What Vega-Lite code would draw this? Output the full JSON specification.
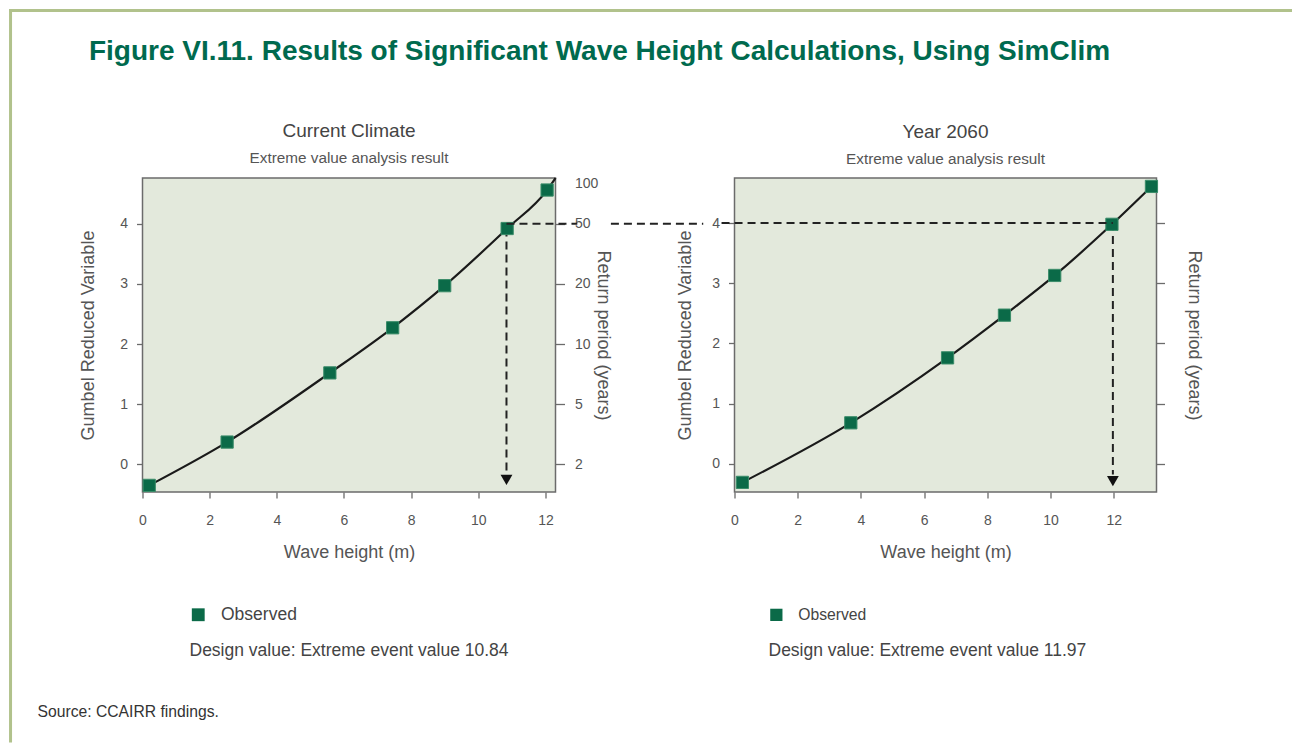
{
  "$schema": "https://vega.github.io/schema/vega-lite/v6.json",
  "background": "white",
  "padding": {"left": 7.5, "top": 7, "right": 0, "bottom": 0},
  "title": {
    "text": "Figure VI.11. Results of Significant Wave Height Calculations, Using SimClim",
    "anchor": "middle",
    "frame": "bounds",
    "dx": -51,
    "dy": 113.5,
    "offset": 55,
    "font": "Liberation Sans",
    "fontSize": 28,
    "fontWeight": "bold",
    "color": "#006a4e"
  },
  "datasets": {
    "cur_obs": [
      {"height": 0.2, "gumbel": -0.35, "series": "Observed"},
      {"height": 2.52, "gumbel": 0.37, "series": "Observed"},
      {"height": 5.58, "gumbel": 1.52, "series": "Observed"},
      {"height": 7.45, "gumbel": 2.27, "series": "Observed"},
      {"height": 9.0, "gumbel": 2.97, "series": "Observed"},
      {"height": 10.86, "gumbel": 3.92, "series": "Observed"},
      {"height": 12.05, "gumbel": 4.56, "series": "Observed"}
    ],
    "cur_fit": [
      {"height": 0.2, "gumbel": -0.35},
      {"height": 2.52, "gumbel": 0.37},
      {"height": 5.58, "gumbel": 1.52},
      {"height": 7.45, "gumbel": 2.27},
      {"height": 9.0, "gumbel": 2.97},
      {"height": 10.86, "gumbel": 3.92},
      {"height": 12.05, "gumbel": 4.56},
      {"height": 12.3, "gumbel": 4.76}
    ],
    "fut_obs": [
      {"height": 0.25, "gumbel": -0.31, "series": "Observed"},
      {"height": 3.68, "gumbel": 0.68, "series": "Observed"},
      {"height": 6.74, "gumbel": 1.76, "series": "Observed"},
      {"height": 8.54, "gumbel": 2.47, "series": "Observed"},
      {"height": 10.13, "gumbel": 3.13, "series": "Observed"},
      {"height": 11.94, "gumbel": 3.98, "series": "Observed"},
      {"height": 13.19, "gumbel": 4.61, "series": "Observed"}
    ],
    "fut_fit": [
      {"height": 0.25, "gumbel": -0.31},
      {"height": 3.68, "gumbel": 0.68},
      {"height": 6.74, "gumbel": 1.76},
      {"height": 8.54, "gumbel": 2.47},
      {"height": 10.13, "gumbel": 3.13},
      {"height": 11.94, "gumbel": 3.98},
      {"height": 13.19, "gumbel": 4.61}
    ],
    "one": [{}]
  },
  "vconcat": [
    {
      "title": {
        "text": "Source: CCAIRR findings.",
        "orient": "bottom",
        "anchor": "start",
        "frame": "group",
        "dx": -105,
        "dy": -83.5,
        "offset": 45,
        "font": "Liberation Sans",
        "fontSize": 15.7,
        "fontWeight": "normal",
        "color": "#333"
      },
      "bounds": "flush",
      "spacing": 179,
      "resolve": {"scale": {"color": "independent"}, "legend": {"color": "independent"}},
      "hconcat": [
        {
          "width": 413,
          "height": 314,
          "title": {
            "text": "Current Climate",
            "subtitle": "Extreme value analysis result",
            "frame": "group",
            "anchor": "middle",
            "offset": 8,
            "dy": 166.2,
            "font": "Liberation Sans",
            "fontSize": 19,
            "fontWeight": "normal",
            "color": "#444",
            "subtitleFont": "Liberation Sans",
            "subtitleFontSize": 15.3,
            "subtitleColor": "#555",
            "subtitlePadding": 10
          },
          "layer": [
            {
              "layer": [
                {
                  "data": {"name": "one"},
                  "mark": {"type": "rule", "strokeWidth": 3, "color": "#b1c28c", "strokeCap": "square", "clip": false},
                  "encoding": {
                    "x": {"datum": -3.93, "type": "quantitative", "scale": {"domain": [0, 12.3], "nice": false, "zero": false}},
                    "x2": {"datum": 34.19},
                    "y": {"datum": 7.545, "type": "quantitative", "scale": {"domain": [-0.46, 4.76], "nice": false, "zero": false}}
                  }
                },
                {
                  "data": {"name": "one"},
                  "mark": {"type": "rule", "strokeWidth": 3, "color": "#b1c28c", "strokeCap": "square", "clip": false},
                  "encoding": {
                    "x": {"datum": -3.93, "type": "quantitative", "scale": {"domain": [0, 12.3], "nice": false, "zero": false}},
                    "y": {"datum": 7.545, "type": "quantitative", "scale": {"domain": [-0.46, 4.76], "nice": false, "zero": false}},
                    "y2": {"datum": -4.6}
                  }
                },
                {
                  "data": {"name": "cur_fit"},
                  "mark": {"type": "line", "interpolate": "monotone", "color": "#1a1a1a", "strokeWidth": 2.2},
                  "encoding": {
                    "x": {"field": "height", "type": "quantitative", "scale": {"domain": [0, 12.3], "nice": false, "zero": false},
                          "axis": {"values": [0, 2, 4, 6, 8, 10, 12], "format": "d", "title": "Wave height (m)", "labelPadding": 15, "titlePadding": 16}},
                    "y": {"field": "gumbel", "type": "quantitative", "scale": {"domain": [-0.46, 4.76], "nice": false, "zero": false},
                          "axis": {"values": [0, 1, 2, 3, 4], "format": "d", "title": "Gumbel Reduced Variable", "labelPadding": 9, "titlePadding": 22}}
                  }
                },
                {
                  "data": {"name": "one"},
                  "mark": {"type": "rule", "strokeDash": [8, 5], "strokeWidth": 2, "color": "#222"},
                  "encoding": {
                    "x": {"datum": 10.84, "type": "quantitative", "scale": {"domain": [0, 12.3], "nice": false, "zero": false}},
                    "y": {"datum": 3.92, "type": "quantitative", "scale": {"domain": [-0.46, 4.76], "nice": false, "zero": false}},
                    "y2": {"datum": -0.15}
                  }
                },
                {
                  "data": {"name": "one"},
                  "mark": {"type": "rule", "strokeDash": [8, 5], "strokeWidth": 2, "color": "#222", "clip": false},
                  "encoding": {
                    "x": {"datum": 13.95, "type": "quantitative", "scale": {"domain": [0, 12.3], "nice": false, "zero": false}},
                    "x2": {"datum": 16.7},
                    "y": {"datum": 4, "type": "quantitative", "scale": {"domain": [-0.46, 4.76], "nice": false, "zero": false}}
                  }
                },
                {
                  "data": {"name": "one"},
                  "mark": {"type": "point", "shape": "triangle-down", "filled": true, "size": 140, "color": "#111", "opacity": 1},
                  "encoding": {
                    "x": {"datum": 10.84, "type": "quantitative", "scale": {"domain": [0, 12.3], "nice": false, "zero": false}},
                    "y": {"datum": -0.26, "type": "quantitative", "scale": {"domain": [-0.46, 4.76], "nice": false, "zero": false}}
                  }
                },
                {
                  "data": {"name": "cur_obs"},
                  "mark": {"type": "point", "shape": "square", "filled": true, "size": 150, "opacity": 1, "stroke": "#3a8c69", "strokeWidth": 1},
                  "encoding": {
                    "x": {"field": "height", "type": "quantitative", "scale": {"domain": [0, 12.3], "nice": false, "zero": false}},
                    "y": {"field": "gumbel", "type": "quantitative", "scale": {"domain": [-0.46, 4.76], "nice": false, "zero": false}},
                    "color": {
                      "field": "series", "type": "nominal",
                      "scale": {"range": ["#0b6a48"]},
                      "legend": {
                        "orient": "none", "legendX": 47, "legendY": 428,
                        "title": "Design value:  Extreme event value 10.84",
                        "titleOrient": "bottom", "titleAnchor": "start", "titlePadding": 19, "titleLimit": 600,
                        "titleFont": "Liberation Sans", "titleFontSize": 17.5, "titleFontWeight": "normal", "titleColor": "#444",
                        "labelFont": "Liberation Sans", "labelFontSize": 17.5, "labelColor": "#444", "labelOffset": 14,
                        "symbolType": "square", "symbolSize": 165, "symbolStrokeWidth": 0, "padding": 0
                      }
                    }
                  }
                }
              ]
            },
            {
              "data": {"name": "one"},
              "mark": {"type": "rule", "strokeDash": [8, 5], "strokeWidth": 2, "color": "#222", "clip": false},
              "encoding": {
                "x": {"datum": 10.84, "type": "quantitative", "scale": {"domain": [0, 12.3], "nice": false, "zero": false}},
                "x2": {"datum": 12.95},
                "y": {"datum": 4, "type": "quantitative", "scale": {"domain": [-0.46, 4.76], "nice": false, "zero": false},
                      "axis": {
                        "orient": "right", "values": [0, 1, 2, 3, 4, 4.67],
                        "labelExpr": "datum.value == 0 ? '2' : datum.value == 1 ? '5' : datum.value == 2 ? '10' : datum.value == 3 ? '20' : datum.value == 4 ? '50' : '100'",
                        "title": "Return period (years)", "tickSize": 9, "labelPadding": 10, "titlePadding": -4,
                        "tickOpacity": {"condition": {"test": "datum.value > 4.5", "value": 0}, "value": 1}
                      }}
              }
            }
          ],
          "resolve": {"scale": {"y": "independent"}}
        },
        {
          "width": 422,
          "height": 314,
          "title": {
            "text": "Year 2060",
            "subtitle": "Extreme value analysis result",
            "frame": "group",
            "anchor": "middle",
            "offset": 11,
            "font": "Liberation Sans",
            "fontSize": 19,
            "fontWeight": "normal",
            "color": "#444",
            "subtitleFont": "Liberation Sans",
            "subtitleFontSize": 15.3,
            "subtitleColor": "#555",
            "subtitlePadding": 10
          },
          "layer": [
            {
              "layer": [
                {
                  "data": {"name": "fut_fit"},
                  "mark": {"type": "line", "interpolate": "monotone", "color": "#1a1a1a", "strokeWidth": 2.2},
                  "encoding": {
                    "x": {"field": "height", "type": "quantitative", "scale": {"domain": [0, 13.35], "nice": false, "zero": false},
                          "axis": {"values": [0, 2, 4, 6, 8, 10, 12], "format": "d", "title": "Wave height (m)", "labelPadding": 15, "titlePadding": 16}},
                    "y": {"field": "gumbel", "type": "quantitative", "scale": {"domain": [-0.47, 4.75], "nice": false, "zero": false},
                          "axis": {"values": [0, 1, 2, 3, 4], "format": "d", "title": "Gumbel Reduced Variable", "labelPadding": 9, "titlePadding": 17}}
                  }
                },
                {
                  "data": {"name": "one"},
                  "mark": {"type": "rule", "strokeDash": [8, 5], "strokeWidth": 2, "color": "#222"},
                  "encoding": {
                    "x": {"datum": 11.97, "type": "quantitative", "scale": {"domain": [0, 13.35], "nice": false, "zero": false}},
                    "y": {"datum": 4, "type": "quantitative", "scale": {"domain": [-0.47, 4.75], "nice": false, "zero": false}},
                    "y2": {"datum": -0.18}
                  }
                },
                {
                  "data": {"name": "one"},
                  "mark": {"type": "point", "shape": "triangle-down", "filled": true, "size": 140, "color": "#111", "opacity": 1},
                  "encoding": {
                    "x": {"datum": 11.97, "type": "quantitative", "scale": {"domain": [0, 13.35], "nice": false, "zero": false}},
                    "y": {"datum": -0.29, "type": "quantitative", "scale": {"domain": [-0.47, 4.75], "nice": false, "zero": false}}
                  }
                },
                {
                  "data": {"name": "fut_obs"},
                  "mark": {"type": "point", "shape": "square", "filled": true, "size": 150, "opacity": 1, "stroke": "#3a8c69", "strokeWidth": 1},
                  "encoding": {
                    "x": {"field": "height", "type": "quantitative", "scale": {"domain": [0, 13.35], "nice": false, "zero": false}},
                    "y": {"field": "gumbel", "type": "quantitative", "scale": {"domain": [-0.47, 4.75], "nice": false, "zero": false}},
                    "color": {
                      "field": "series", "type": "nominal",
                      "scale": {"range": ["#0b6a48"]},
                      "legend": {
                        "orient": "none", "legendX": 34, "legendY": 429,
                        "title": "Design value:  Extreme event value 11.97",
                        "titleOrient": "bottom", "titleAnchor": "start", "titlePadding": 19, "titleLimit": 600,
                        "titleFont": "Liberation Sans", "titleFontSize": 17.5, "titleFontWeight": "normal", "titleColor": "#444",
                        "labelFont": "Liberation Sans", "labelFontSize": 15.7, "labelColor": "#444", "labelOffset": 14,
                        "symbolType": "square", "symbolSize": 150, "symbolStrokeWidth": 0, "padding": 0
                      }
                    }
                  }
                }
              ]
            },
            {
              "data": {"name": "one"},
              "mark": {"type": "rule", "strokeDash": [8, 5], "strokeWidth": 2, "color": "#222", "clip": false},
              "encoding": {
                "x": {"datum": -0.41, "type": "quantitative", "scale": {"domain": [0, 13.35], "nice": false, "zero": false}},
                "x2": {"datum": 11.97},
                "y": {"datum": 4, "type": "quantitative", "scale": {"domain": [-0.47, 4.75], "nice": false, "zero": false},
                      "axis": {
                        "orient": "right", "values": [0, 1, 2, 3, 4], "labels": false,
                        "title": "Return period (years)", "tickSize": 8, "titlePadding": 19
                      }}
              }
            }
          ],
          "resolve": {"scale": {"y": "independent"}}
        }
      ]
    }
  ],
  "config": {
    "font": "Liberation Sans",
    "view": {"fill": "#e3e9dc", "stroke": "#6b6b6b", "strokeWidth": 1.5},
    "axis": {
      "domain": false, "grid": false, "ticks": true,
      "tickColor": "#6b6b6b", "tickSize": 6, "tickWidth": 1.3,
      "labelColor": "#555", "labelFont": "Liberation Sans", "labelFontSize": 14,
      "labelFlush": false, "labelOverlap": false,
      "titleFont": "Liberation Sans", "titleFontSize": 18, "titleFontWeight": "normal", "titleColor": "#555"
    }
  }
}
